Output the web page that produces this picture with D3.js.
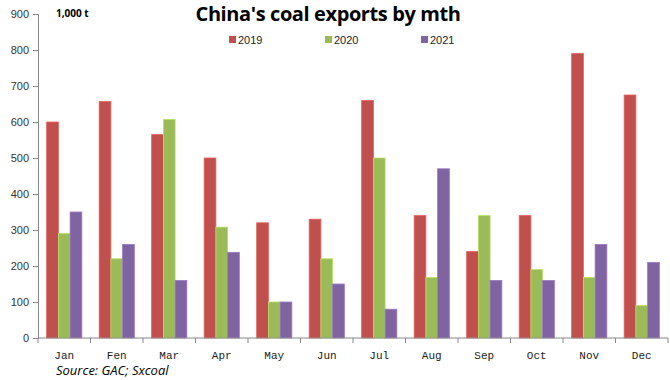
<!DOCTYPE html>
<html>
<head>
<meta charset="utf-8">
<script src="https://cdn.jsdelivr.net/npm/d3@7"></script>
<style>
  body { margin: 0; background: #fff; }
  svg { display: block; }
</style>
</head>
<body>
<div class="chart"></div>
<script>
// data (1,000 t)
var months = ["Jan", "Fen", "Mar", "Apr", "May", "Jun", "Jul", "Aug", "Sep", "Oct", "Nov", "Dec"];
var years = ["2019", "2020", "2021"];
var v2019 = [600, 657, 565, 500, 320, 330, 660, 340, 240, 340, 790, 675];
var v2020 = [290, 220, 607, 308, 100, 220, 500, 168, 340, 190, 168, 90];
var v2021 = [350, 260, 160, 238, 100, 150, 80, 470, 160, 160, 260, 210];
var yTicks = [0, 100, 200, 300, 400, 500, 600, 700, 800, 900];
var colors = ["#C0504D", "#9BBB59", "#8064A2"];

var svgWidth = 670, svgHeight = 380;
var margin = { top: 14, right: 2, bottom: 42, left: 38 };

var svg = d3.select(".chart")
  .append("svg")
  .attr("width", svgWidth)
  .attr("height", svgHeight);

var series = [v2019, v2020, v2021];
var rows = months.map(function(m, i) {
  return { month: m, values: series.map(function(s, j) { return { year: years[j], value: s[i] }; }) };
});

var x0 = d3.scaleBand()
  .domain(months)
  .range([margin.left, svgWidth - margin.right])
  .paddingInner(0.33)
  .paddingOuter(0.165);

var x1 = d3.scaleBand()
  .domain(years)
  .range([0, x0.bandwidth()]);

var y = d3.scaleLinear()
  .domain([0, 900])
  .range([svgHeight - margin.bottom, margin.top]);

var color = d3.scaleOrdinal().domain(years).range(colors);

// bars
var groups = svg.selectAll(".month")
  .data(rows)
  .enter()
  .append("g")
  .attr("class", "month")
  .attr("transform", d => "translate(" + x0(d.month) + ",0)");

groups.selectAll("rect")
  .data(d => d.values)
  .enter()
  .append("rect")
  .attr("x", d => x1(d.year))
  .attr("y", d => y(d.value))
  .attr("width", x1.bandwidth())
  .attr("height", d => y(0) - y(d.value))
  .attr("fill", d => color(d.year))
  .attr("stroke", d => d3.color(color(d.year)).brighter(0.5))
  .attr("stroke-width", 0.8);

// y axis
var yAxis = d3.axisLeft(y).tickValues(yTicks).tickSize(5).tickPadding(4);
var gy = svg.append("g")
  .attr("transform", "translate(" + margin.left + ",0)")
  .call(yAxis);
gy.select(".domain").attr("stroke", "#888");
gy.selectAll(".tick line").attr("stroke", "#888");
gy.selectAll("text")
  .attr("font-family", "Liberation Sans, Arial, sans-serif")
  .attr("font-size", "11px")
  .attr("fill", "#333");

// x axis: ticks between categories
var xAxisG = svg.append("g")
  .attr("transform", "translate(0," + y(0) + ")");
xAxisG.append("line")
  .attr("x1", margin.left).attr("x2", svgWidth - margin.right)
  .attr("stroke", "#888");
xAxisG.selectAll(".sep")
  .data(months.concat(["end"]))
  .enter()
  .append("line")
  .attr("class", "sep")
  .attr("x1", (d, i) => margin.left + i * x0.step())
  .attr("x2", (d, i) => margin.left + i * x0.step())
  .attr("y1", 0).attr("y2", 5)
  .attr("stroke", "#888");
xAxisG.selectAll(".lab")
  .data(months)
  .enter()
  .append("text")
  .attr("class", "lab")
  .attr("x", d => x0(d) + x0.bandwidth() / 2)
  .attr("y", 21)
  .attr("text-anchor", "middle")
  .attr("font-family", "Liberation Mono, DejaVu Sans Mono, monospace")
  .attr("font-size", "11px")
  .attr("fill", "#222")
  .text(d => d);

// title
svg.append("text")
  .attr("x", 328)
  .attr("y", 21)
  .attr("text-anchor", "middle")
  .attr("font-family", "Open Sans, sans-serif")
  .attr("font-weight", "bold")
  .attr("font-size", "20px")
  .attr("letter-spacing", "-0.4px")
  .attr("fill", "#000")
  .text("China's coal exports by mth");

svg.append("text")
  .attr("x", 56)
  .attr("y", 17)
  .attr("font-family", "Open Sans, sans-serif")
  .attr("font-weight", "bold")
  .attr("font-size", "10px")
  .attr("fill", "#000")
  .text("1,000 t");

// legend
var legend = svg.selectAll(".legend")
  .data(years)
  .enter()
  .append("g")
  .attr("class", "legend")
  .attr("transform", (d, i) => "translate(" + (229 + i * 96) + ",40)");
legend.append("rect")
  .attr("x", 0).attr("y", -4)
  .attr("width", 7).attr("height", 7)
  .attr("fill", d => color(d));
legend.append("text")
  .attr("x", 9)
  .attr("y", 4)
  .attr("font-family", "Liberation Sans, Arial, sans-serif")
  .attr("font-size", "11px")
  .attr("fill", "#222")
  .text(d => d);

// source
svg.append("text")
  .attr("x", 56)
  .attr("y", 375)
  .attr("font-family", "Open Sans, sans-serif")
  .attr("font-style", "italic")
  .attr("font-size", "13px")
  .attr("fill", "#000")
  .text("Source: GAC; Sxcoal");
</script>
</body>
</html>
